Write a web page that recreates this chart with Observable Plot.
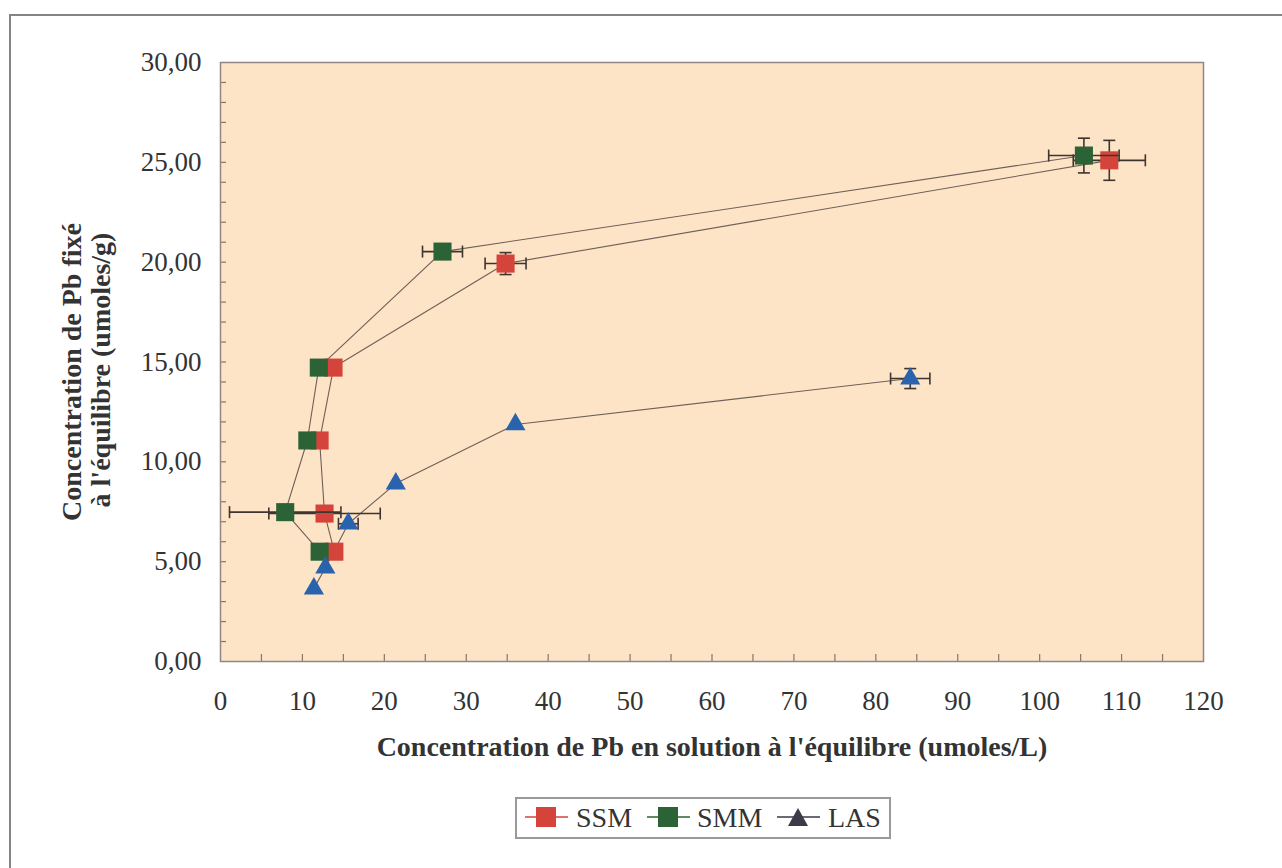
<!DOCTYPE html>
<html>
<head>
<meta charset="utf-8">
<script src="https://cdn.jsdelivr.net/npm/d3@7"></script>
<script src="https://cdn.jsdelivr.net/npm/@observablehq/plot@0.6"></script>
<style>
  html, body { margin: 0; padding: 0; background: #fff; }
  #wrap { position: relative; width: 1282px; height: 868px; overflow: hidden; font-family: "Liberation Serif", serif; }
  #border { position: absolute; left: 9px; top: 14px; width: 1300px; height: 900px; border-top: 2px solid #858585; border-left: 2px solid #858585; }
  #chart { position: absolute; left: 0; top: 0; }
  #legend { position: absolute; left: 515px; top: 797px; }
</style>
</head>
<body>
<div id="wrap">
  <div id="border"></div>
  <div id="chart"></div>
  <div id="legend"></div>
</div>
<script>
// ---- data ----
const seriesNames = ["SSM", "SMM", "LAS"];
const seriesColors = ["#d5443a", "#2b6236", "#2a63ad"];

const ssmX    = [13.9, 12.7, 12.1, 13.8, 34.8, 108.5];
const ssmY    = [5.5, 7.41, 11.07, 14.72, 19.93, 25.1];
const ssmXErr = [0, 6.8, 0, 0, 2.5, 4.4];
const ssmYErr = [0, 0, 0, 0, 0.55, 1.0];

const smmX    = [12.1, 7.9, 10.6, 12.0, 27.1, 105.4];
const smmY    = [5.5, 7.48, 11.07, 14.72, 20.53, 25.34];
const smmXErr = [0, 6.8, 0, 0, 2.44, 4.3];
const smmYErr = [0, 0, 0, 0, 0, 0.87];

const lasX    = [11.4, 12.8, 15.6, 21.4, 36.0, 84.2];
const lasY    = [3.65, 4.7, 6.9, 8.91, 11.87, 14.17];
const lasXErr = [0, 0, 1.2, 0, 0, 2.4];
const lasYErr = [0, 0, 0, 0, 0, 0.5];

const xTicks = [0, 10, 20, 30, 40, 50, 60, 70, 80, 90, 100, 110, 120];
const yTicks = [0, 5, 10, 15, 20, 25, 30];

const xTitle = "Concentration de Pb en solution à l'équilibre (umoles/L)";
const yTitle1 = "Concentration de Pb fixé";
const yTitle2 = "à l'équilibre (umoles/g)";

// ---- build tables ----
function rows(name, xs, ys, xe, ye) {
  return xs.map((x, i) => ({series: name, x, y: ys[i], xe: xe[i], ye: ye[i]}));
}
const allData = [
  rows("SSM", ssmX, ssmY, ssmXErr, ssmYErr),
  rows("SMM", smmX, smmY, smmXErr, smmYErr),
  rows("LAS", lasX, lasY, lasXErr, lasYErr)
];

// custom cap symbols
const vCap = {draw(ctx) { ctx.moveTo(0, -6); ctx.lineTo(0, 6); }};
const hCap = {draw(ctx) { ctx.moveTo(-6, 0); ctx.lineTo(6, 0); }};

const fmt = d => d.toFixed(2).replace(".", ",");
const lineColor = "#6e6058";
const errColor = "#3e3430";

const marks = [
  Plot.frame({fill: "#fde4c7", stroke: null}),
  // minor inside ticks
  Plot.axisY(d3.range(1, 30), {tickSize: -6, text: null, label: null, stroke: "#8a7565", strokeWidth: 1.2}),
  Plot.axisX(d3.range(5, 120, 5), {tickSize: -7, text: null, label: null, stroke: "#8a7565", strokeWidth: 1.2}),
  // tick labels
  Plot.axisY(yTicks, {tickSize: 0, tickPadding: 19, label: null, tickFormat: fmt, fill: "#333", fontSize: 27}),
  Plot.axisX(xTicks, {tickSize: 0, tickPadding: 29, label: null, fill: "#333", fontSize: 27}),
  Plot.frame({stroke: "#958585", strokeWidth: 1.5}),
  // connecting lines
  ...allData.map(d => Plot.line(d, {x: "x", y: "y", stroke: lineColor, strokeWidth: 1.1}))
];

allData.forEach((d, k) => {
  const hx = d.filter(r => r.xe > 0);
  const vy = d.filter(r => r.ye > 0);
  marks.push(
    Plot.link(hx, {x1: r => r.x - r.xe, x2: r => r.x + r.xe, y1: "y", y2: "y", stroke: errColor, strokeWidth: 1.6}),
    Plot.dot(hx, {x: r => r.x - r.xe, y: "y", symbol: vCap, stroke: errColor, strokeWidth: 1.6, fill: "none"}),
    Plot.dot(hx, {x: r => r.x + r.xe, y: "y", symbol: vCap, stroke: errColor, strokeWidth: 1.6, fill: "none"}),
    Plot.link(vy, {x1: "x", x2: "x", y1: r => r.y - r.ye, y2: r => r.y + r.ye, stroke: errColor, strokeWidth: 1.6}),
    Plot.dot(vy, {x: "x", y: r => r.y - r.ye, symbol: hCap, stroke: errColor, strokeWidth: 1.6, fill: "none"}),
    Plot.dot(vy, {x: "x", y: r => r.y + r.ye, symbol: hCap, stroke: errColor, strokeWidth: 1.6, fill: "none"}),
    Plot.dot(d, {
      x: "x", y: "y",
      symbol: k === 2 ? "triangle" : "square",
      r: k === 2 ? 7.5 : 10.2,
      fill: seriesColors[k], stroke: null
    })
  );
});

// titles
marks.push(
  Plot.text([xTitle], {frameAnchor: "bottom", dy: 94, text: d => d, fontWeight: "bold", fontSize: 28, fill: "#333"}),
  Plot.text([yTitle1], {frameAnchor: "left", textAnchor: "middle", dx: -148, dy: 10, rotate: -90, text: d => d, fontWeight: "bold", fontSize: 28, fill: "#333"}),
  Plot.text([yTitle2], {frameAnchor: "left", textAnchor: "middle", dx: -119, dy: 8, rotate: -90, text: d => d, fontWeight: "bold", fontSize: 28, fill: "#333"})
);

const chart = Plot.plot({
  width: 1282,
  height: 780,
  marginTop: 62,
  marginBottom: 119,
  marginLeft: 220,
  marginRight: 79,
  x: {domain: [0, 120], axis: null},
  y: {domain: [0, 30], axis: null},
  style: {fontFamily: "Liberation Serif, serif", fontSize: "27px", background: "transparent", overflow: "visible"},
  marks
});
document.getElementById("chart").appendChild(chart);

// ---- legend ----
const legendItems = seriesNames.map((name, k) => ({
  name,
  color: k === 2 ? "#3a3a48" : seriesColors[k],
  shape: k === 2 ? "triangle" : "square",
  lineX: [10, 132, 262][k],
  textX: [61, 182, 313][k]
}));
let svg = `<svg width="376" height="42" xmlns="http://www.w3.org/2000/svg" style="font-family: 'Liberation Serif', serif">
<rect x="1" y="1" width="374" height="40" fill="#fff" stroke="#9a9a9a" stroke-width="2"/>`;
legendItems.forEach(it => {
  const cx = it.lineX + 21;
  svg += `<line x1="${it.lineX}" y1="20" x2="${it.lineX + 43}" y2="20" stroke="${it.color}" stroke-width="1.5"/>`;
  svg += it.shape === "square"
    ? `<rect x="${cx - 10}" y="10" width="20" height="20" fill="${it.color}"/>`
    : `<polygon points="${cx},11 ${cx + 10},29 ${cx - 10},29" fill="${it.color}"/>`;
  svg += `<text x="${it.textX}" y="30" font-size="28" fill="#333">${it.name}</text>`;
});
svg += `</svg>`;
document.getElementById("legend").innerHTML = svg;
</script>
</body>
</html>
